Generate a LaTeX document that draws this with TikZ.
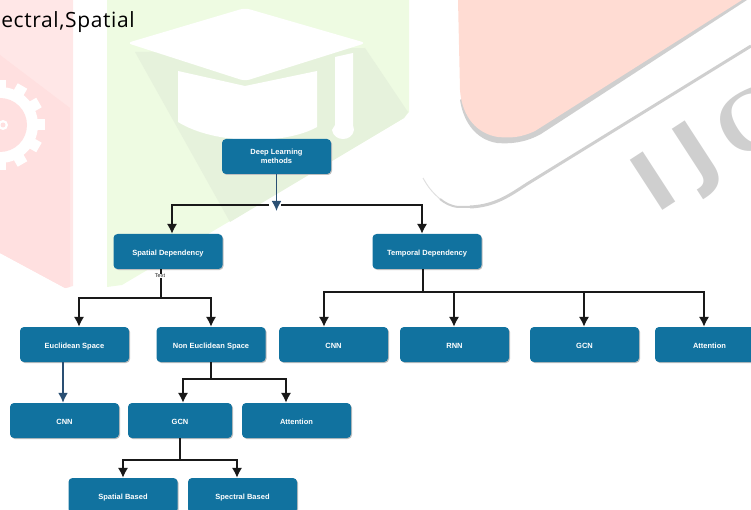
\documentclass[tikz,border=0pt]{standalone}
\usepackage{fontspec}
\setmainfont{Liberation Sans}
\newfontfamily\topfont[LetterSpace=3]{Open Sans}
\newfontfamily\markfont{Liberation Serif}
\newfontfamily\marksans{DejaVu Sans}
\usetikzlibrary{arrows.meta,calc}
\definecolor{boxblue}{HTML}{11729F}
\definecolor{navy}{HTML}{2A4F73}
\definecolor{pinkL}{HTML}{FFE0E0}
\definecolor{pinkT}{HTML}{FFE7E7}
\definecolor{pinkR}{HTML}{FFDCD3}
\definecolor{greenA}{HTML}{EEFBE2}
\definecolor{greenB}{HTML}{E6F2DC}
\definecolor{markgray}{HTML}{CFCFCF}
\tikzset{
  x=1pt,y=-1pt,
  box/.style={fill=boxblue,rounded corners=4pt,minimum height=35pt,minimum width=109pt,inner sep=0pt,
    text=white,font=\fontsize{7.5}{9.5}\selectfont\bfseries,align=center,text height=7pt,text depth=0pt},
  blk/.style={draw=black!90,line width=2.1pt},
  tip/.style={-{Latex[length=10pt,width=10.5pt]}},
  navyline/.style={draw=navy,line width=1.8pt,-{Latex[length=10pt,width=10pt]}},
  marktext/.style={rotate=33,text=markgray,inner sep=0pt},
}
\begin{document}
\begin{tikzpicture}
\useasboundingbox (0,0) rectangle (751,510);
\clip (0,0) rectangle (751,510);
% watermark: left band
\fill[pinkT] (0,0) -- (73,0) -- (73,286) -- (65,288) -- (0,253) -- cycle;
\fill[pinkL] (0,55) -- (70,108) -- (70,287) -- (65,288) -- (0,253) -- cycle;
\foreach \a in {0,30,...,330}{
  \fill[white,rotate around={\a:(0,125)}] (33,119.5) rectangle (45,130.5);
}
\fill[white] (0,125) circle[radius=38];
\fill[pinkL] (0,125) circle[radius=27];
\fill[white] (3,125) circle[radius=5];
\fill[pinkL] (3,125) circle[radius=2.5];
% watermark: green band
\fill[greenA] (107,0) -- (409,0) -- (409,112) -- (404,118) -- (122,285) -- (107,287) -- cycle;
\fill[greenB] (135,52) -- (230,222) -- (404,118) -- (408,112) -- (365,48) -- cycle;
\fill[white,rounded corners=5pt] (127,43) -- (245,8) -- (366,43) -- (245,81) -- cycle;
\fill[white] (178,71) -- (245,86) -- (317,71) -- (317,127) .. controls (285,145) and (215,145) .. (178,122) -- cycle;
\fill[white] (335,57) -- (353,53) -- (353,125) -- (354,130) .. controls (352,142) and (334,142) .. (332,130) -- (335,125) -- cycle;
% watermark: right band
\fill[markgray] (747,0) -- (541,134) .. controls (525,143) and (510,144) .. (497,143) .. controls (478,140) and (464,125) .. (460,100) -- (500,60) -- (700,0) -- cycle;
\fill[pinkR] (458,0) -- (742,0) -- (535,131) .. controls (520,138) and (510,138) .. (498,137) .. controls (478,134) and (462,118) .. (460,90) -- cycle;
\draw[markgray,line width=3pt] (751,46) -- (527,184) .. controls (510,195) and (495,206) .. (470,207);
\draw[markgray,line width=2pt] (472,207) -- (458,207) .. controls (450,206) and (445,203) .. (440,199);
\draw[black!12,line width=1pt] (440,199) .. controls (432,192) and (428,187) .. (423,178);
\node[marktext,font=\marksans\bfseries\fontsize{82}{82}\selectfont] (markI) at (653,181) {I};
\node[marktext,font=\marksans\bfseries\fontsize{82}{82}\selectfont] (markJ) at (699,157) {J};
\node[marktext,font=\markfont\bfseries\fontsize{88}{88}\selectfont] (markC) at (750,122) {C};
% heading fragment
\node[anchor=base east,inner sep=0pt,font=\topfont\fontsize{21}{21}\selectfont,text=black] (head) at (135,28) {ectral,Spatial};
% shadows and boxes
\foreach \cx/\cy/\w in {276.5/156.5/109,168/251.5/109,427/251.5/109,74.5/344.5/109,211/344.5/109,333.5/344.5/109,454.5/344.5/109,584.5/344.5/109,709.5/344.5/109,64.5/420.5/109,180/420.5/104,296.5/420.5/109,123/495.5/109,242.5/495.5/109}{
  \fill[black!25,rounded corners=4pt] (\cx-\w/2+1,\cy-16.5) rectangle (\cx+\w/2+1,\cy+18.5);
}
\node[box,text height=,text depth=] (dl) at (276.5,156.5) {Deep Learning\\methods};
\node[box] (sd) at (168,251.5) {Spatial Dependency};
\node[box] (td) at (427,251.5) {Temporal Dependency};
\node[box] (eu) at (74.5,344.5) {Euclidean Space};
\node[box] (ne) at (211,344.5) {Non Euclidean Space};
\node[box] (c1) at (333.5,344.5) {CNN};
\node[box] (r1) at (454.5,344.5) {RNN};
\node[box] (g1) at (584.5,344.5) {GCN};
\node[box] (a1) at (709.5,344.5) {Attention};
\node[box] (c2) at (64.5,420.5) {CNN};
\node[box,minimum width=104pt] (g2) at (180,420.5) {GCN};
\node[box] (a2) at (296.5,420.5) {Attention};
\node[box] (sb) at (123,495.5) {Spatial Based};
\node[box] (pb) at (242.5,495.5) {Spectral Based};
% junctions
\coordinate (j0) at (dl.south |- 0,205);
\coordinate (j0l) at (269,205);
\coordinate (j0r) at (281,205);
\coordinate (j1) at (161,298);
\coordinate (j2) at (423,292);
\coordinate (j3) at (ne.south |- 0,379);
\coordinate (j4) at (g2.south |- 0,460);
% top level
\draw[blk,tip] (j0l) -| (172,0 |- sd.north);
\draw[blk,tip] (j0r) -| (422,0 |- td.north);
\draw[navyline] (dl.south) -- ($(j0)+(0,6)$);
% spatial
\draw[blk] (j1 |- sd.south) -- (j1);
\draw[blk,tip] (j1) -| (79,0 |- eu.north);
\draw[blk,tip] (j1) -| (ne.north);
\node[fill=white,inner sep=0.5pt,font=\fontsize{5.5}{5.5}\selectfont,text=black!85] (txt) at (160,276) {Text};
% temporal
\draw[blk] (j2 |- td.south) -- (j2);
\draw[blk,tip] (j2) -| (324,0 |- c1.north);
\draw[blk,tip] (454,292) -- (454,0 |- r1.north);
\draw[blk,tip] (584,292) -- (584,0 |- g1.north);
\draw[blk,tip] (j2) -| (704,0 |- a1.north);
% euclidean
\draw[navyline] (63,0 |- eu.south) -- (63,0 |- c2.north);
% non euclidean
\draw[blk] (ne.south) -- (j3);
\draw[blk,tip] (j3) -| (183,0 |- g2.north);
\draw[blk,tip] (j3) -| (286,0 |- a2.north);
% gcn
\draw[blk] (g2.south) -- (j4);
\draw[blk,tip] (j4) -| (123,0 |- sb.north);
\draw[blk,tip] (j4) -| (237,0 |- pb.north);
\end{tikzpicture}
\end{document}
